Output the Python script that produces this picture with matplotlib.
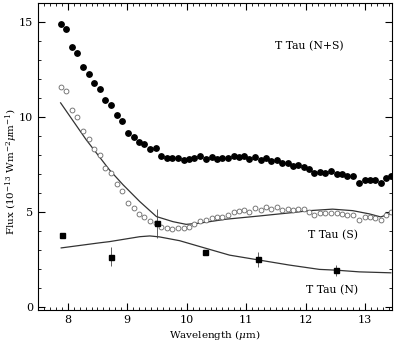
import numpy as np
import matplotlib
matplotlib.use('Agg')
import matplotlib.pyplot as plt
from matplotlib.ticker import MultipleLocator

# T Tau (N+S) 总流量 (实心圆)
wl_ns = [7.88, 7.97, 8.07, 8.16, 8.26, 8.35, 8.44, 8.54, 8.63, 8.73, 8.82, 8.92,
         9.01, 9.11, 9.20, 9.29, 9.39, 9.48, 9.57, 9.67, 9.76, 9.85, 9.95, 10.04,
         10.13, 10.23, 10.32, 10.42, 10.51, 10.60, 10.70, 10.79, 10.88, 10.96, 11.05,
         11.15, 11.24, 11.33, 11.42, 11.51, 11.60, 11.70, 11.79, 11.87, 11.97, 12.06,
         12.14, 12.24, 12.33, 12.43, 12.52, 12.61, 12.70, 12.80, 12.89, 12.99, 13.08,
         13.17, 13.26, 13.35, 13.44]
flux_ns = [14.92, 14.66, 13.69, 13.37, 12.66, 12.26, 11.78, 11.50, 10.88, 10.63, 10.12, 9.78,
           9.17, 8.97, 8.69, 8.60, 8.34, 8.37, 7.97, 7.85, 7.85, 7.85, 7.76, 7.79,
           7.85, 7.93, 7.79, 7.90, 7.79, 7.85, 7.85, 7.97, 7.90, 7.98, 7.79,
           7.90, 7.72, 7.85, 7.67, 7.72, 7.58, 7.58, 7.44, 7.49, 7.37, 7.27,
           7.05, 7.14, 7.05, 7.16, 7.00, 7.00, 6.88, 6.88, 6.56, 6.67, 6.67,
           6.67, 6.53, 6.79, 6.88]

# T Tau (S) (空心圆)
flux_s = [11.59, 11.36, 10.40, 9.99, 9.29, 8.85, 8.32, 8.02, 7.34, 7.06, 6.49, 6.09,
          5.47, 5.21, 4.89, 4.77, 4.54, 4.41, 4.24, 4.15, 4.12, 4.15, 4.18, 4.24,
          4.38, 4.55, 4.59, 4.68, 4.73, 4.73, 4.85, 5.03, 5.08, 5.12, 5.03,
          5.21, 5.12, 5.26, 5.15, 5.26, 5.12, 5.15, 5.12, 5.15, 5.15, 5.03,
          4.85, 4.94, 4.98, 4.94, 4.94, 4.91, 4.85, 4.85, 4.59, 4.73, 4.73,
          4.68, 4.59, 4.85, 5.03]

# T Tau (N) 测光点 (方块) 及误差
wl_n = [7.90, 8.72, 9.50, 10.30, 11.20, 12.51]
flux_n = [3.80, 2.66, 4.42, 2.92, 2.52, 1.95]
err_n = [0.0, 0.50, 0.77, 0.0, 0.40, 0.29]

# 模型曲线 (S)
wl_mod_s = [7.88, 8.31, 8.70, 8.93, 9.21, 9.49, 9.77, 9.99, 10.21, 10.66, 11.22,
            11.78, 12.06, 12.45, 12.79, 13.07, 13.26, 13.44]
mod_s = [10.75, 8.81, 7.23, 6.44, 5.56, 4.77, 4.50, 4.36, 4.42, 4.63, 4.80,
         4.98, 5.08, 5.16, 5.08, 4.91, 4.75, 4.94]

# 模型曲线 (N)
wl_mod_n = [7.89, 8.54, 8.70, 9.21, 9.38, 9.54, 9.88, 10.21, 10.72, 11.22, 11.72,
            12.23, 12.51, 12.90, 13.43]
mod_n = [3.12, 3.39, 3.45, 3.71, 3.75, 3.70, 3.50, 3.20, 2.74, 2.48, 2.22,
         1.99, 1.95, 1.86, 1.81]

plt.rcParams['font.family'] = ['DejaVu Serif']
plt.rcParams['mathtext.fontset'] = 'dejavuserif'

fig = plt.figure(figsize=(4.0, 3.43), dpi=100)
ax = fig.add_axes([0.095, 0.096, 0.885, 0.895])

line_c = '#333333'
ax.plot(wl_mod_s, mod_s, color=line_c, lw=0.9)
ax.plot(wl_mod_n, mod_n, color=line_c, lw=0.9)
ax.plot(wl_ns, flux_ns, 'o', color='black', ms=3.9, mec='black')
ax.plot(wl_ns, flux_s, 'o', mfc='white', mec='#666666', mew=0.6, ms=3.5)
ax.errorbar(wl_n, flux_n, yerr=err_n, fmt='s', color='black', ms=3.6,
            ecolor='#444444', elinewidth=0.6, capsize=0)

ax.text(12.06, 13.75, 'T Tau (N+S)', ha='center', va='center', fontsize=7.8)
ax.text(12.45, 3.80, 'T Tau (S)', ha='center', va='center', fontsize=7.8)
ax.text(12.45, 0.90, 'T Tau (N)', ha='center', va='center', fontsize=7.8)

ax.set_xlim(7.5, 13.45)
ax.set_ylim(-0.15, 16.0)
ax.xaxis.set_major_locator(MultipleLocator(1))
ax.xaxis.set_minor_locator(MultipleLocator(0.1))
ax.yaxis.set_major_locator(MultipleLocator(5))
ax.yaxis.set_minor_locator(MultipleLocator(1))
ax.tick_params(which='both', direction='in', top=True, right=True, labelsize=8)
ax.tick_params(which='major', length=5, width=0.8)
ax.tick_params(which='minor', length=2.5, width=0.6)

ax.set_xlabel(r'Wavelength ($\mu$m)', fontsize=7.5, labelpad=2)
ax.set_ylabel(r'Flux (10$^{-13}$ Wm$^{-2}\mu$m$^{-1}$)', fontsize=7.5)
ax.yaxis.set_label_coords(-0.052, 0.45)

fig.savefig('out.png', dpi=100)
plt.close(fig)
